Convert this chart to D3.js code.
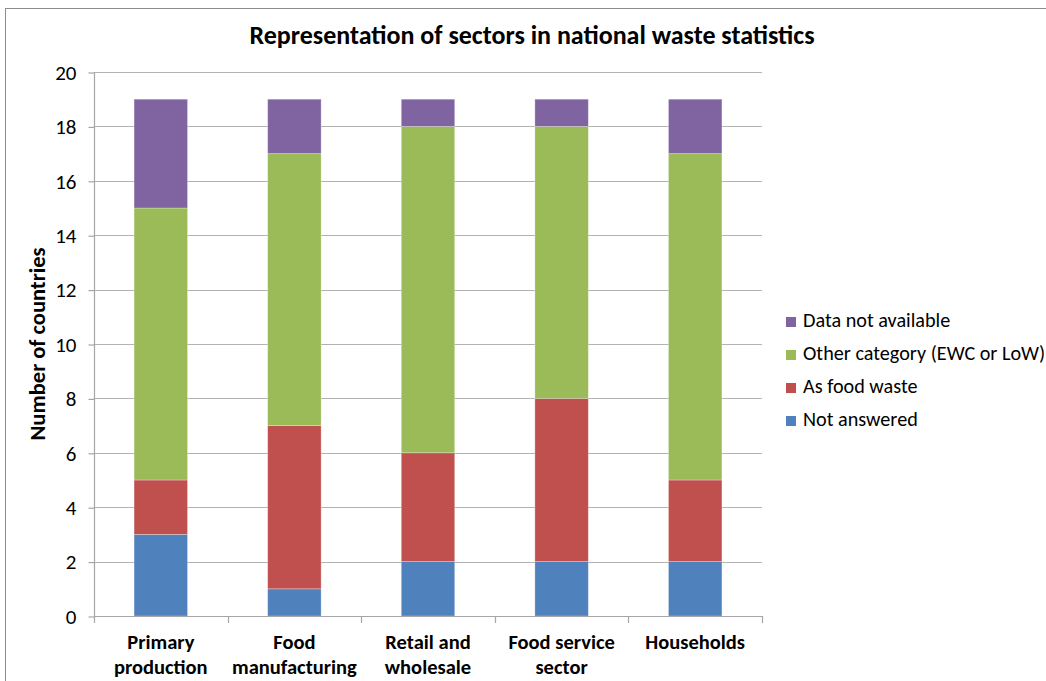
<!DOCTYPE html>
<html>
<head>
<meta charset="utf-8">
<script src="https://cdn.jsdelivr.net/npm/d3@7"></script>
<style>
  html, body { margin: 0; padding: 0; background: #fff; }
  svg { display: block; font-family: Carlito, Calibri, Lato, "Open Sans", sans-serif; }
</style>
</head>
<body>
<svg id="chart" width="1046" height="681"></svg>
<script>
// Sectors on the x axis
const sectors = [
  ["Primary", "production"],
  ["Food", "manufacturing"],
  ["Retail and", "wholesale"],
  ["Food service", "sector"],
  ["Households"]
];

// Number of countries per sector, one array per answer
const notAnswered   = [3, 1, 2, 2, 2];
const asFoodWaste   = [2, 6, 4, 6, 3];
const otherCategory = [10, 10, 12, 10, 12];
const dataNotAvail  = [4, 2, 1, 1, 2];

const seriesNames = ["Not answered", "As food waste", "Other category (EWC or LoW)", "Data not available"];
const seriesColors = ["#4F81BD", "#C0504D", "#9BBB59", "#8064A2"];
const yTicks = [0, 2, 4, 6, 8, 10, 12, 14, 16, 18, 20];

const svg = d3.select("#chart");

// Chart frame
svg.append("rect")
  .attr("x", 5.5).attr("y", 8.5)
  .attr("width", 1060).attr("height", 700)
  .attr("fill", "#fff").attr("stroke", "#8c8c8c").attr("stroke-width", 1);

const plot = { left: 94, right: 762, top: 72, bottom: 616 };

const x = d3.scaleBand()
  .domain(d3.range(sectors.length))
  .range([plot.left, plot.right])
  .paddingInner(0.6)
  .paddingOuter(0.3);

const y = d3.scaleLinear().domain([0, 20]).range([plot.bottom, plot.top]);

// Horizontal gridlines
svg.append("g")
  .selectAll("line")
  .data(yTicks)
  .join("line")
  .attr("x1", plot.left).attr("x2", plot.right)
  .attr("y1", d => Math.round(y(d)) + 0.5).attr("y2", d => Math.round(y(d)) + 0.5)
  .attr("stroke", "#b3b3b3").attr("stroke-width", 1.2);

// Stacked bars
const rows = d3.range(sectors.length).map(i => ({
  i,
  s0: notAnswered[i], s1: asFoodWaste[i], s2: otherCategory[i], s3: dataNotAvail[i]
}));
const stack = d3.stack().keys(["s0", "s1", "s2", "s3"])(rows);

svg.append("g")
  .selectAll("g")
  .data(stack)
  .join("g")
  .attr("fill", (d, k) => seriesColors[k])
  .selectAll("rect")
  .data(d => d)
  .join("rect")
  .attr("x", d => x(d.data.i))
  .attr("width", x.bandwidth())
  .attr("y", d => y(d[1]))
  .attr("height", d => y(d[0]) - y(d[1]))
  .attr("stroke", "rgba(255,255,255,0.35)")
  .attr("stroke-width", 0.8);

// Y axis
const yAxis = d3.axisLeft(y).tickValues(yTicks).tickSize(6).tickPadding(12).tickFormat(d3.format("d"));
const gy = svg.append("g")
  .attr("transform", `translate(${plot.left + 0.5},0.5)`)
  .call(yAxis);
gy.select(".domain").attr("stroke", "#a6a6a6").attr("stroke-width", 1.2).attr("d", `M0,${plot.top}V${plot.bottom}`);
gy.selectAll(".tick line").attr("stroke", "#a6a6a6").attr("stroke-width", 1.2);
gy.selectAll(".tick text")
  .attr("font-size", 21).attr("fill", "#000")
  .attr("font-family", "Carlito, Calibri, Lato, sans-serif");

// X axis line with category boundary ticks
const xBounds = d3.range(sectors.length + 1).map(i => plot.left + i * (plot.right - plot.left) / sectors.length);
const gx = svg.append("g");
gx.append("line")
  .attr("x1", plot.left).attr("x2", plot.right)
  .attr("y1", plot.bottom + 0.5).attr("y2", plot.bottom + 0.5)
  .attr("stroke", "#a6a6a6").attr("stroke-width", 1.2);
gx.selectAll("line.tk")
  .data(xBounds)
  .join("line")
  .attr("class", "tk")
  .attr("x1", d => Math.round(d) + 0.5).attr("x2", d => Math.round(d) + 0.5)
  .attr("y1", plot.bottom).attr("y2", plot.bottom + 7)
  .attr("stroke", "#a6a6a6").attr("stroke-width", 1.2);

// Category labels
gx.selectAll("text.cat")
  .data(sectors)
  .join("text")
  .attr("class", "cat")
  .attr("text-anchor", "middle")
  .attr("font-size", 20.5).attr("font-weight", "bold").attr("fill", "#000")
  .attr("x", (d, i) => x(i) + x.bandwidth() / 2)
  .attr("y", 649)
  .selectAll("tspan")
  .data(d => d)
  .join("tspan")
  .attr("x", function () { return d3.select(this.parentNode).attr("x"); })
  .attr("dy", (d, j) => j === 0 ? 0 : 24.5)
  .text(d => d);

// Title
svg.append("text")
  .attr("x", 532).attr("y", 44)
  .attr("text-anchor", "middle")
  .attr("font-size", 26).attr("font-weight", "bold").attr("fill", "#000")
  .text("Representation of sectors in national waste statistics");

// Y axis title
svg.append("text")
  .attr("transform", "translate(45,344) rotate(-90)")
  .attr("text-anchor", "middle")
  .attr("font-size", 22.5).attr("font-weight", "bold").attr("fill", "#000")
  .text("Number of countries");

// Legend (top entry is the top of the stack)
const legendOrder = [3, 2, 1, 0];
const lg = svg.append("g");
const items = lg.selectAll("g")
  .data(legendOrder)
  .join("g")
  .attr("transform", (k, j) => `translate(786,${327 + j * 33})`);
items.append("rect")
  .attr("x", 0).attr("y", -10).attr("width", 10).attr("height", 10)
  .attr("fill", k => seriesColors[k]);
items.append("text")
  .attr("x", 17).attr("y", 0)
  .attr("font-size", 20.2).attr("fill", "#000")
  .text(k => seriesNames[k]);
</script>
</body>
</html>
